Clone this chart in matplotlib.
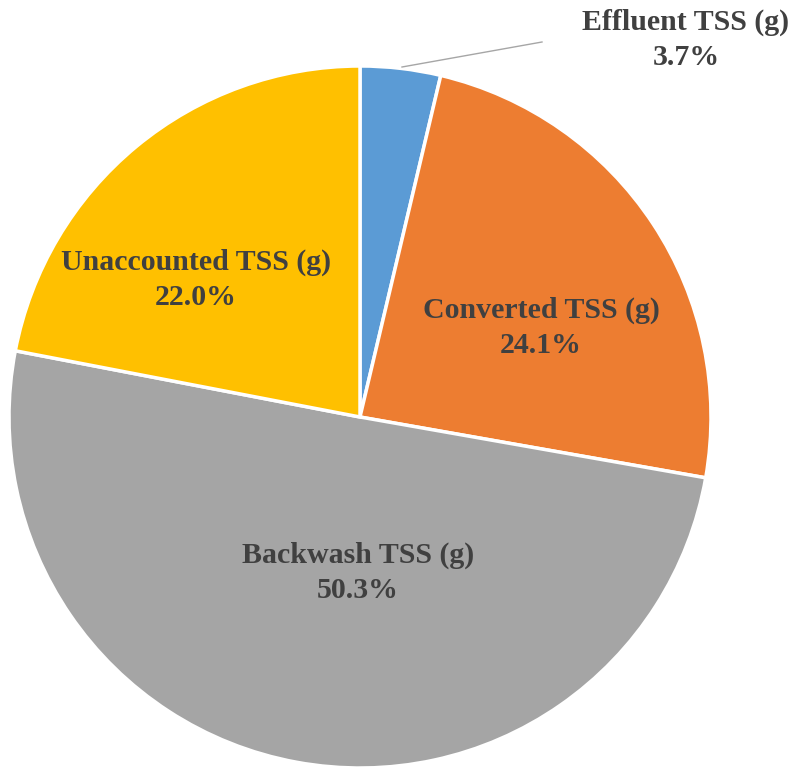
import matplotlib.pyplot as plt

labels = ["Effluent TSS (g)", "Converted TSS (g)", "Backwash TSS (g)", "Unaccounted TSS (g)"]
shares = [3.7, 24.1, 50.3, 22.0]
colors = ["#5B9BD5", "#ED7D31", "#A5A5A5", "#FFC000"]

# label centres in pixel coords (x, y from top)
label_pos = [(686, 40), (541, 328), (358, 573), (196, 280)]

W, H = 809, 770
cx, cy, r = 360, 417, 351

fig = plt.figure(figsize=(W / 100, H / 100), dpi=100)
ax = fig.add_axes([0, 0, 1, 1])

ax.pie(shares, colors=colors, startangle=90, counterclock=False,
       center=(cx, H - cy), radius=r,
       wedgeprops=dict(edgecolor="white", linewidth=2.5))

# pie resets the limits, so set them afterwards
ax.set_xlim(0, W)
ax.set_ylim(0, H)
ax.set_aspect("equal")
ax.axis("off")

for i, (lab, val) in enumerate(zip(labels, shares)):
    x, y = label_pos[i]
    ax.text(x, H - y, f"{lab}\n{val:.1f}%", ha="center", va="center",
            fontsize=21.5, fontweight="bold", family="Liberation Serif",
            color="#404040", linespacing=1.38)

# leader line for the small slice
ax.plot([402, 542], [H - 67, H - 42], color="#A6A6A6", lw=1)

fig.savefig("out.png", dpi=100)
